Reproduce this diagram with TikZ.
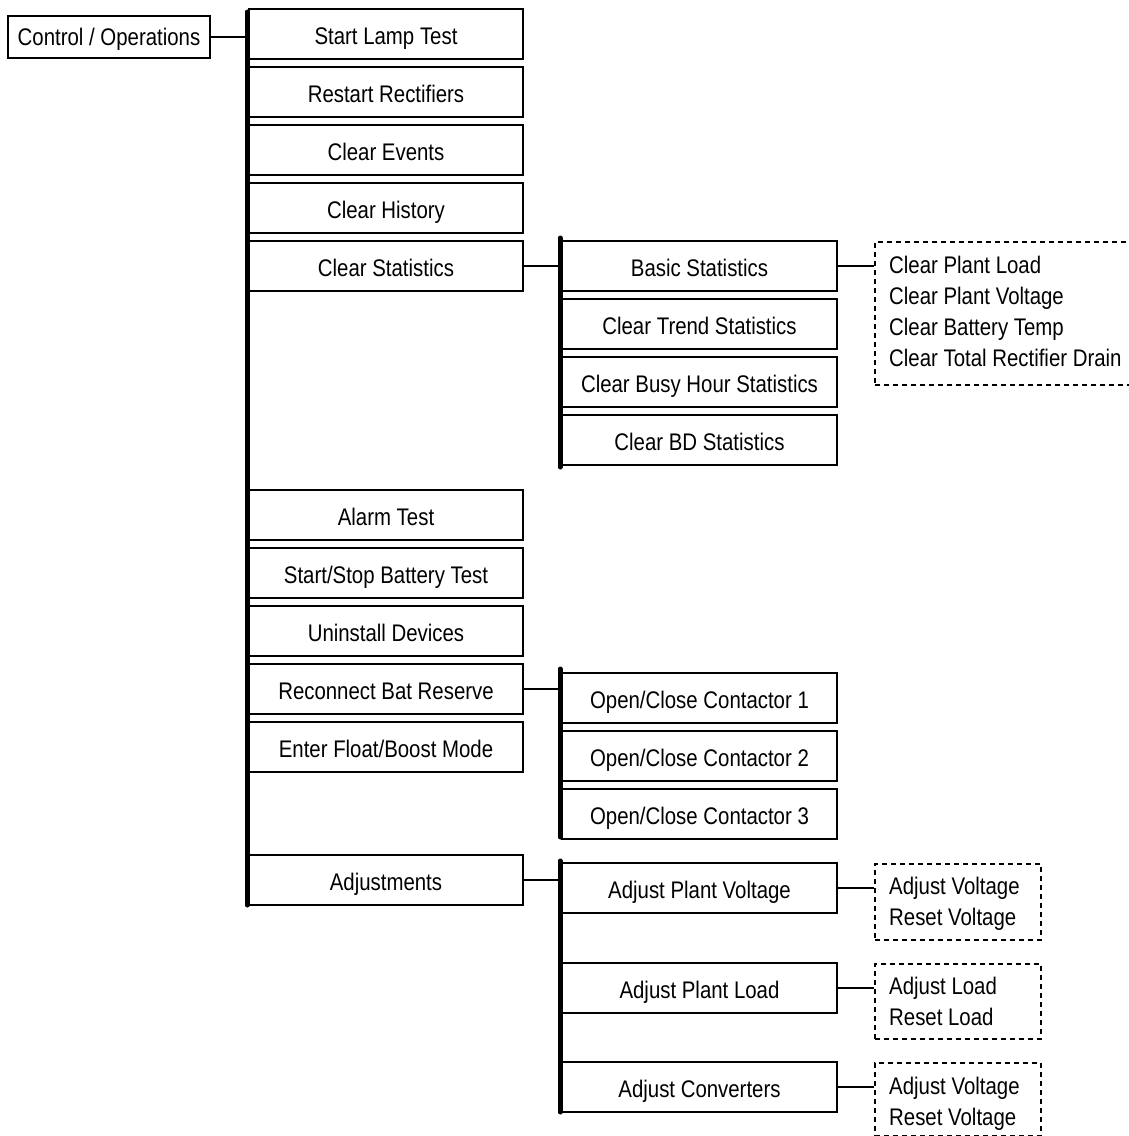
\documentclass[tikz,border=0pt]{standalone}
\usepackage{fontspec}
\setmainfont{Liberation Sans}[FakeStretch=0.85]
\begin{document}
\begin{tikzpicture}[x=1pt,y=-1pt,
  menubox/.style={draw, line width=1.8pt, minimum width=274pt, minimum height=50pt, inner sep=0pt,
    text height=21pt, text depth=0pt, font=\fontsize{24}{31}\selectfont},
  subbox/.style={menubox, minimum width=275pt},
  dashbox/.style={draw, dash pattern=on 5pt off 4pt, line width=1.5pt, anchor=north west, inner sep=0pt},
  listtext/.style={anchor=west, align=left, inner sep=0pt, font=\fontsize{24}{31}\selectfont},
  trunk/.style={line width=5pt, line cap=round},
  link/.style={line width=2.8pt}]
\fill[white] (0,0) rectangle (1129,1136);
\useasboundingbox (0,0) rectangle (1129,1136);

% root
\node[menubox, minimum width=202pt, minimum height=42pt, text height=17pt] (ctrl) at (109,37) {Control / Operations};

% main trunk
\coordinate (t1top) at (247,12);
\coordinate (t1bot) at (247,905);
\draw[trunk] (t1top) -- (t1bot);
\draw[link] (ctrl.east) -- (ctrl.east -| t1top);

% column 1
\node[menubox] (lamp) at (386,34) {Start Lamp Test};
\node[menubox] (rect) at (386,92) {Restart Rectifiers};
\node[menubox] (cev) at (386,150) {Clear Events};
\node[menubox] (chist) at (386,208) {Clear History};
\node[menubox] (cstat) at (386,266) {Clear Statistics};
\node[menubox] (alarm) at (386,515) {Alarm Test};
\node[menubox] (batt) at (386,573) {Start/Stop Battery Test};
\node[menubox] (unin) at (386,631) {Uninstall Devices};
\node[menubox] (recon) at (386,689) {Reconnect Bat Reserve};
\node[menubox] (float) at (386,747) {Enter Float/Boost Mode};
\node[menubox] (adj) at (386,880) {Adjustments};

% statistics branch
\coordinate (t2top) at (560,238);
\coordinate (t2bot) at (560,467);
\draw[trunk] (t2top) -- (t2bot);
\draw[link] (cstat.east) -- (cstat.east -| t2top);
\node[subbox] (basic) at (699.5,266) {Basic Statistics};
\node[subbox] (trend) at (699.5,324) {Clear Trend Statistics};
\node[subbox] (busy) at (699.5,382) {Clear Busy Hour Statistics};
\node[subbox] (bd) at (699.5,440) {Clear BD Statistics};
\node[dashbox, minimum width=270pt, minimum height=143pt] (basiclist) at (874,241) {};
\node[listtext] (basictext) at (889,311.3)
  {Clear Plant Load\\Clear Plant Voltage\\Clear Battery Temp\\Clear Total Rectifier Drain};
\draw[link] (basic.east) -- (basic.east -| basiclist.west);

% contactor branch
\coordinate (t3top) at (560,669);
\coordinate (t3bot) at (560,837);
\draw[trunk] (t3top) -- (t3bot);
\draw[link] (recon.east) -- (recon.east -| t3top);
\node[subbox] (c1) at (699.5,698) {Open/Close Contactor 1};
\node[subbox] (c2) at (699.5,756) {Open/Close Contactor 2};
\node[subbox] (c3) at (699.5,814) {Open/Close Contactor 3};

% adjustments branch
\coordinate (t4top) at (560,861);
\coordinate (t4bot) at (560,1112);
\draw[trunk] (t4top) -- (t4bot);
\draw[link] (adj.east) -- (adj.east -| t4top);
\node[subbox] (apv) at (699.5,888) {Adjust Plant Voltage};
\node[subbox] (apl) at (699.5,988) {Adjust Plant Load};
\node[subbox] (acv) at (699.5,1087) {Adjust Converters};
\node[dashbox, minimum width=166pt, minimum height=76pt] (apvlist) at (874,863) {};
\node[dashbox, minimum width=166pt, minimum height=75pt] (apllist) at (874,963) {};
\node[dashbox, minimum width=166pt, minimum height=73pt] (acvlist) at (874,1062) {};
\node[listtext] (apvtext) at (889,903.9) {Adjust Voltage\\Reset Voltage};
\node[listtext] (apltext) at (889,1001.4) {Adjust Load\\Reset Load};
\node[listtext] (acvtext) at (889,1103.9) {Adjust Voltage\\Reset Voltage};
\draw[link] (apv.east) -- (apv.east -| apvlist.west);
\draw[link] (apl.east) -- (apl.east -| apllist.west);
\draw[link] (acv.east) -- (acv.east -| acvlist.west);
\end{tikzpicture}
\end{document}
